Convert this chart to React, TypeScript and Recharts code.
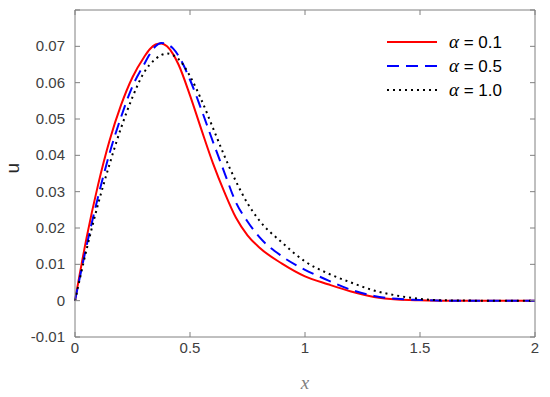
import { LineChart, Line, XAxis, YAxis, Legend } from "recharts";

// x positions shared by the three curves
const xs = [0, 0.05, 0.1, 0.15, 0.2, 0.25, 0.3, 0.325, 0.35, 0.375, 0.4, 0.425, 0.45, 0.5, 0.55, 0.6, 0.65, 0.7, 0.75, 0.8, 0.9, 1.0, 1.1, 1.2, 1.3, 1.4, 1.5, 1.6, 1.8, 2.0];

const alpha01 = [0, 0.0172, 0.0318, 0.044, 0.0538, 0.0615, 0.067, 0.0692, 0.0705, 0.0708, 0.07, 0.068, 0.065, 0.0565, 0.047, 0.0378, 0.0298, 0.0228, 0.018, 0.0147, 0.0102, 0.0067, 0.0045, 0.0025, 0.001, 0.0003, 0.0001, 0, 0, 0];
const alpha05 = [0, 0.015, 0.0285, 0.0405, 0.0505, 0.059, 0.065, 0.0678, 0.07, 0.0709, 0.0706, 0.0695, 0.0674, 0.0608, 0.0525, 0.0437, 0.0352, 0.027, 0.0218, 0.0176, 0.0122, 0.0085, 0.0056, 0.003, 0.0013, 0.0005, 0.0002, 0, 0, 0];
const alpha10 = [0, 0.014, 0.0265, 0.0375, 0.0475, 0.056, 0.0628, 0.065, 0.0665, 0.0676, 0.068, 0.0676, 0.0665, 0.0618, 0.0552, 0.0475, 0.0398, 0.0328, 0.0268, 0.0222, 0.016, 0.0108, 0.0075, 0.005, 0.0028, 0.0014, 0.0005, 0.0001, 0, 0];

const xTicks = [0, 0.5, 1, 1.5, 2];
const yTicks = [-0.01, 0, 0.01, 0.02, 0.03, 0.04, 0.05, 0.06, 0.07, 0.08];
const yLabels = ["-0.01", "0", "0.01", "0.02", "0.03", "0.04", "0.05", "0.06", "0.07"];

const series = [
  { key: "a01", name: "0.1", color: "#ff0000", dash: undefined },
  { key: "a05", name: "0.5", color: "#0000ff", dash: "12 7" },
  { key: "a10", name: "1.0", color: "#000000", dash: "2 4" },
];

const data = xs.map((x, i) => ({ x, a01: alpha01[i], a05: alpha05[i], a10: alpha10[i] }));

// layout
const W = 550;
const H = 397;
const MARGIN = { top: 9, right: 14, left: 0, bottom: 0 };
const X_AXIS_H = 60;
const Y_AXIS_W = 75;
const BOX_AXIS = 1; // top / right frame axes
const PLOT_W = W - MARGIN.left - MARGIN.right - Y_AXIS_W - BOX_AXIS;
const PLOT_H = H - MARGIN.top - MARGIN.bottom - X_AXIS_H - BOX_AXIS;

const AXIS = "#808080";
const FONT = "Liberation Sans, Arial, sans-serif";

const fmtY = (v: number) => {
  const idx = yTicks.findIndex((t) => Math.abs(t - v) < 1e-9);
  return idx >= 0 && idx < yLabels.length ? yLabels[idx] : "";
};

// MATLAB style: tick marks point into the box, on all four sides
const BottomTick = (p: any) => (
  <g>
    <line x1={p.x} x2={p.x} y1={p.y} y2={p.y - 5} stroke={AXIS} />
    <line x1={p.x} x2={p.x} y1={p.y - PLOT_H} y2={p.y - PLOT_H + 5} stroke={AXIS} />
    <text x={p.x} y={p.y + 16} textAnchor="middle" fontSize={15} fill="#404040" fontFamily={FONT}>
      {p.payload.value}
    </text>
  </g>
);
const LeftTick = (p: any) => (
  <g>
    <line x1={p.x} x2={p.x + 5} y1={p.y} y2={p.y} stroke={AXIS} />
    <line x1={p.x + PLOT_W} x2={p.x + PLOT_W - 5} y1={p.y} y2={p.y} stroke={AXIS} />
    <text x={p.x - 10} y={p.y + 5} textAnchor="end" fontSize={15} fill="#404040" fontFamily={FONT}>
      {fmtY(p.payload.value)}
    </text>
  </g>
);

const LegendBox = () => (
  <svg width={150} height={80}>
    {series.map((s, i) => (
      <g key={s.key} transform={`translate(0, ${i * 24 + 10})`}>
        <line x1={7} x2={57} y1={0} y2={0} stroke={s.color} strokeWidth={2} strokeDasharray={s.dash} />
        <text x={69} y={6} fontSize={17} fill="#000" fontFamily={FONT}>
          <tspan fontFamily="Liberation Serif, Times New Roman, serif" fontStyle="italic" fontSize={19}>α</tspan>
          <tspan> = {s.name}</tspan>
        </text>
      </g>
    ))}
  </svg>
);

export default function App() {
  return (
    <div style={{ position: "absolute", left: 0, top: 0, width: W, height: H, background: "#fff" }}>
      <LineChart width={W} height={H} data={data} margin={MARGIN}>
        <XAxis
          xAxisId="bottom"
          dataKey="x"
          type="number"
          domain={[0, 2]}
          ticks={xTicks}
          interval={0}
          height={X_AXIS_H}
          stroke={AXIS}
          tickLine={false}
          tickSize={0}
          tickMargin={0}
          tick={<BottomTick />}
          label={{ value: "x", position: "insideBottom", offset: 8, fill: "#808080", fontSize: 19, fontStyle: "italic", fontFamily: "Liberation Serif, Times New Roman, serif" }}
        />
        <XAxis xAxisId="top" orientation="top" height={BOX_AXIS} stroke={AXIS} tick={false} tickLine={false} />
        <YAxis
          yAxisId="left"
          type="number"
          domain={[-0.01, 0.08]}
          ticks={yTicks}
          interval={0}
          width={Y_AXIS_W}
          stroke={AXIS}
          tickLine={false}
          tickSize={0}
          tickMargin={0}
          tick={<LeftTick />}
          label={{ value: "u", angle: -90, position: "insideLeft", offset: 12, fill: "#262626", fontSize: 19, fontFamily: FONT }}
        />
        <YAxis yAxisId="right" orientation="right" width={BOX_AXIS} stroke={AXIS} tick={false} tickLine={false} />
        <Legend
          layout="vertical"
          align="center"
          verticalAlign="middle"
          content={<LegendBox />}
          wrapperStyle={{ position: "absolute", left: 380, top: 32, width: 150 }}
        />
        {series.map((s) => (
          <Line
            key={s.key}
            xAxisId="bottom"
            yAxisId="left"
            type="monotone"
            dataKey={s.key}
            name={s.name}
            stroke={s.color}
            strokeWidth={2}
            strokeDasharray={s.dash}
            dot={false}
            isAnimationActive={false}
          />
        ))}
      </LineChart>
    </div>
  );
}
